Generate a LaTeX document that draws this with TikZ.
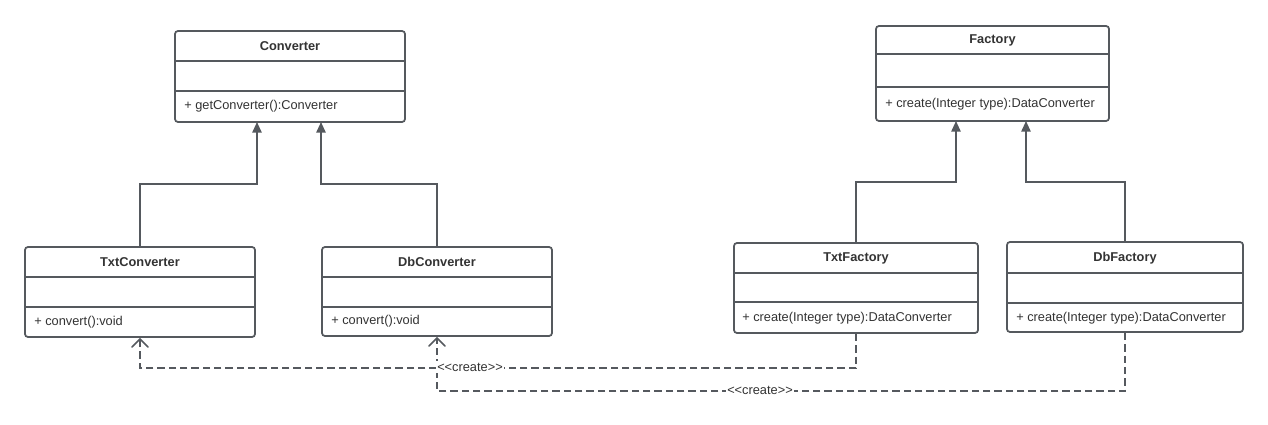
\documentclass[tikz,border=0pt]{standalone}
\usepackage{fontspec}
\setmainfont{Liberation Sans}
\usetikzlibrary{arrows.meta,fit,calc}

\definecolor{umlline}{HTML}{55595E}
\definecolor{umltext}{HTML}{333333}

\tikzset{
  classbox/.style={draw=umlline, line width=1.3pt, rounded corners=2.2pt, inner sep=0pt, fill=white},
  divider/.style={draw=umlline, line width=1.3pt},
  classname/.style={font=\fontsize{9.6}{11}\selectfont\bfseries, text=umltext, inner sep=0pt},
  method/.style={font=\fontsize{9.6}{11}\selectfont, text=umltext, inner sep=0pt, anchor=west},
  inherit/.style={draw=umlline, line width=1.3pt, -{Triangle[length=8pt,width=7pt]}},
  depend/.style={draw=umlline, line width=1.2pt, dash pattern=on 5.5pt off 3pt, -{Straight Barb[length=6pt,width=12pt,line cap=round]}},
  stereo/.style={font=\fontsize{9.6}{11}\selectfont, text=umltext, fill=white, inner sep=1pt},
}

\begin{document}
\begin{tikzpicture}[x=0.75pt, y=-0.75pt]
\useasboundingbox (0,0) rectangle (1268,425);

% Converter side
\node[classbox, fit={(175,31) (405,122)}] (conv) {};
\draw[divider] (conv.west |- 0,61) -- (conv.east |- 0,61);
\draw[divider] (conv.west |- 0,91) -- (conv.east |- 0,91);
\node[classname] (convname) at (290,46) {Converter};
\node[method] (convop) at (184,106.5) {+ getConverter():Converter};

\node[classbox, fit={(25,247) (255,337)}] (txtconv) {};
\draw[divider] (txtconv.west |- 0,277) -- (txtconv.east |- 0,277);
\draw[divider] (txtconv.west |- 0,307) -- (txtconv.east |- 0,307);
\node[classname] (txtconvname) at (140,262) {TxtConverter};
\node[method] (txtconvop) at (34,322) {+ convert():void};

\node[classbox, fit={(322,247) (552,336)}] (dbconv) {};
\draw[divider] (dbconv.west |- 0,277) -- (dbconv.east |- 0,277);
\draw[divider] (dbconv.west |- 0,307) -- (dbconv.east |- 0,307);
\node[classname] (dbconvname) at (437,262) {DbConverter};
\node[method] (dbconvop) at (331,321.5) {+ convert():void};

% Factory side
\node[classbox, fit={(876,26) (1109,121)}] (fac) {};
\draw[divider] (fac.west |- 0,54) -- (fac.east |- 0,54);
\draw[divider] (fac.west |- 0,87) -- (fac.east |- 0,87);
\node[classname] (facname) at (992.5,40) {Factory};
\node[method] (facop) at (885,104) {+ create(Integer type):DataConverter};

\node[classbox, fit={(734,243) (978,333)}] (txtfac) {};
\draw[divider] (txtfac.west |- 0,273) -- (txtfac.east |- 0,273);
\draw[divider] (txtfac.west |- 0,302) -- (txtfac.east |- 0,302);
\node[classname] (txtfacname) at (856,258) {TxtFactory};
\node[method] (txtfacop) at (742,318) {+ create(Integer type):DataConverter};

\node[classbox, fit={(1007,242) (1243,332)}] (dbfac) {};
\draw[divider] (dbfac.west |- 0,273) -- (dbfac.east |- 0,273);
\draw[divider] (dbfac.west |- 0,303) -- (dbfac.east |- 0,303);
\node[classname] (dbfacname) at (1125,258) {DbFactory};
\node[method] (dbfacop) at (1016,318) {+ create(Integer type):DataConverter};

% Inheritance
\coordinate (convL) at (257,122);
\coordinate (convR) at (321,122);
\coordinate (facL) at (956,121);
\coordinate (facR) at (1026,121);
\draw[inherit] (txtconv.north) |- (convL |- 0,184) -- (convL);
\draw[inherit] (dbconv.north) |- (convR |- 0,184) -- (convR);
\draw[inherit] (txtfac.north) |- (facL |- 0,182) -- (facL);
\draw[inherit] (dbfac.north) |- (facR |- 0,182) -- (facR);

% Dependencies
\draw[depend] (txtfac.south) |- ($(txtconv.south)+(0,30)$) -- (txtconv.south);
\draw[depend] (dbfac.south) |- ($(dbconv.south)+(0,54)$) -- (dbconv.south);
\node[stereo] (createA) at (470,367) {<\kern0pt<create>\kern0pt>};
\node[stereo] (createB) at (760,390) {<\kern0pt<create>\kern0pt>};
\end{tikzpicture}
\end{document}
